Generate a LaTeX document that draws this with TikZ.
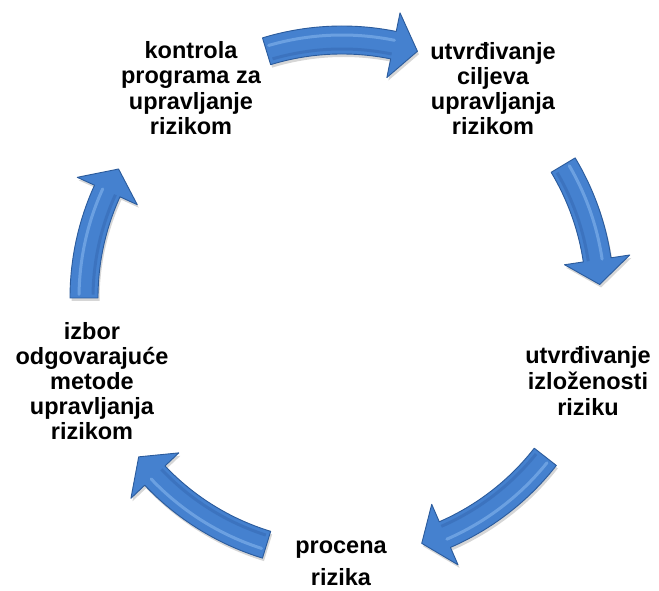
\documentclass[tikz,border=0pt]{standalone}
\usepackage{fontspec}
\setmainfont{Liberation Sans}
\usetikzlibrary{calc}
\definecolor{arrmain}{HTML}{4581CF}
\definecolor{arredge}{HTML}{2B5B9C}
\definecolor{arrhi}{HTML}{8CBBF0}
\definecolor{arrdark}{HTML}{3569B2}
\tikzset{
  lbl/.style={anchor=north, inner sep=0pt, align=center, text=black,
    font=\fontsize{23.5pt}{25.5pt}\selectfont\bfseries},
  arrbody/.style={fill=arrmain, draw=arredge, line width=0.9pt, line join=round},
  arrshadow/.style={fill=black, opacity=0.16},
}
% #1 tail angle, #2 tip angle (clockwise, #1 > #2)
\newcommand\arrpath[2]{%
  (#1:272pt) arc[start angle=#1, end angle=\hb, radius=272pt]
  -- (\hb:291pt) -- (#2:258pt) -- (\hb:225pt) -- (\hb:244pt)
  arc[start angle=\hb, end angle=#1, radius=244pt] -- cycle}
\newcommand\cyarrow[2]{%
  \pgfmathsetmacro\hb{#2+5.5}%
  \pgfmathsetmacro\ta{#1-0.8}%
  \fill[arrshadow, shift={(1.5pt,-3pt)}] \arrpath{#1}{#2};
  \path[arrbody] \arrpath{#1}{#2};
  \draw[arrdark, line width=3pt, opacity=0.55] (\ta:249pt) arc[start angle=\ta, end angle=\hb, radius=249pt];
  \draw[arrhi, line width=3pt, opacity=0.55, line cap=round] (\ta:263pt) arc[start angle=\ta, end angle=\hb, radius=263pt];
}
\begin{document}
\begin{tikzpicture}[x=1pt,y=1pt]
\useasboundingbox (0,0) rectangle (659,591);
\fill[white] (0,0) rectangle (659,591);
\begin{scope}[shift={(342pt,293pt)}]
  \cyarrow{107}{73}
  \cyarrow{31}{3}
  \cyarrow{-38}{-72}
  \cyarrow{-107}{-142}
  \cyarrow{180}{150}
\end{scope}
\node[lbl] (kontrola) at (191,550) {\rule{0pt}{17pt}kontrola\\programa za\\upravljanje\\rizikom};
\node[lbl, font=\fontsize{23.5pt}{25pt}\selectfont\bfseries] (ciljevi) at (493,549) {\rule{0pt}{17pt}utvrđivanje\\ciljeva\\upravljanja\\rizikom};
\node[lbl, font=\fontsize{23.5pt}{26pt}\selectfont\bfseries] (izlozenost) at (588,245) {\rule{0pt}{17pt}utvrđivanje\\izloženosti\\riziku};
\node[lbl, font=\fontsize{23.5pt}{32pt}\selectfont\bfseries] (procena) at (341,55) {\rule{0pt}{17pt}procena\\rizika};
\node[lbl, font=\fontsize{23.5pt}{25pt}\selectfont\bfseries] (izbor) at (92,269) {\rule{0pt}{17pt}izbor\\odgovarajuće\\metode\\upravljanja\\rizikom};
\end{tikzpicture}
\end{document}
